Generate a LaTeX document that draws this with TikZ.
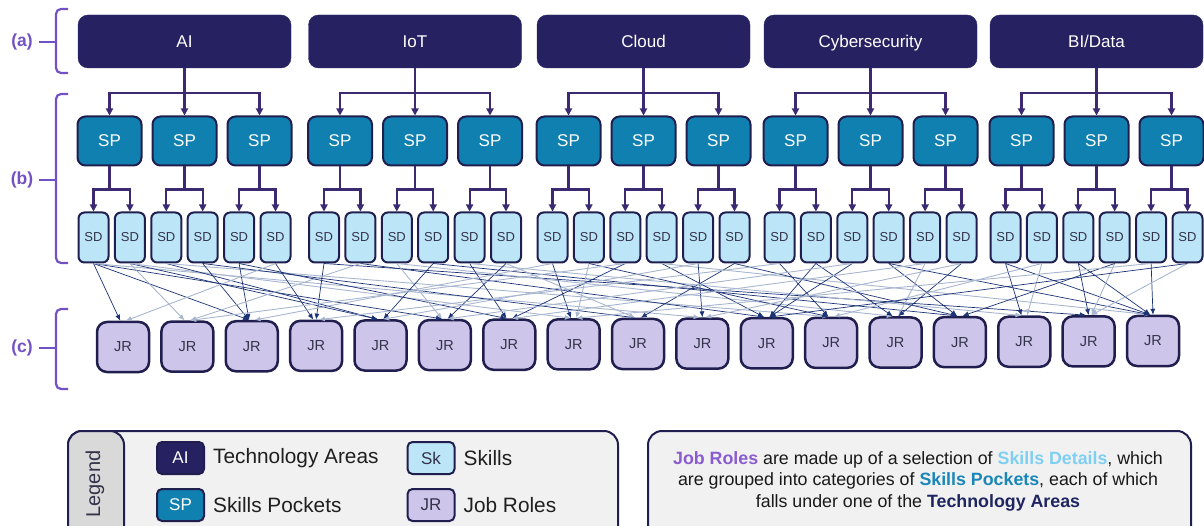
\documentclass[tikz,border=0pt]{standalone}
\usepackage{fontspec}
\setmainfont{Liberation Sans}
\usetikzlibrary{arrows.meta,calc}
\definecolor{tacol}{HTML}{262262}
\definecolor{spcol}{HTML}{1080B0}
\definecolor{sdcol}{HTML}{BDE5F8}
\definecolor{jrcol}{HTML}{CEC6EA}
\definecolor{bdcol}{HTML}{201E4E}
\definecolor{treecol}{HTML}{3B2A72}
\definecolor{brcol}{HTML}{7351C4}
\definecolor{dkcol}{HTML}{1B3275}
\definecolor{ltcol}{HTML}{A8B6CF}
\definecolor{lgfill}{HTML}{F1F1F1}
\definecolor{tabfill}{HTML}{D9D9D9}
\definecolor{txtcol}{HTML}{33334A}
\definecolor{jrtxt}{HTML}{8A5CD0}
\definecolor{sdtxt}{HTML}{7FCFF2}
\definecolor{sptxt}{HTML}{1A87B8}
\definecolor{tatxt}{HTML}{1F2560}
\begin{document}
\begin{tikzpicture}[x=1pt,y=-1pt,
  tabox/.style={draw=tacol, fill=tacol, rounded corners=10pt, minimum width=213pt, minimum height=53pt, inner sep=0pt, text=white, text height=12pt, text depth=0pt, font=\fontsize{17}{20}\selectfont},
  spbox/.style={draw=bdcol, line width=2pt, fill=spcol, rounded corners=8pt, minimum width=64pt, minimum height=49pt, inner sep=0pt, text=white, font=\fontsize{17}{20}\selectfont},
  sdbox/.style={draw=bdcol, line width=2pt, fill=sdcol, rounded corners=6pt, minimum width=30pt, minimum height=50pt, inner sep=0pt, text=txtcol, font=\fontsize{13}{15}\selectfont},
  jrbox/.style={draw=bdcol, line width=2.5pt, fill=jrcol, rounded corners=10pt, minimum width=52pt, minimum height=50pt, inner sep=0pt, text=txtcol, font=\fontsize{14.5}{16}\selectfont},
  treeln/.style={draw=treecol, line width=2.2pt},
  treearr/.style={treeln, -{Triangle[length=7pt,width=7pt]}},
  dkc/.style={draw=dkcol, line width=0.7pt, -{Latex[length=6pt,width=5pt]}},
  ltc/.style={draw=ltcol, line width=0.9pt, -{Latex[length=6pt,width=5pt]}},
  lab/.style={text=brcol, font=\bfseries\fontsize{17.5}{20}\selectfont, inner sep=0pt},
  brln/.style={draw=brcol, line width=2.2pt, rounded corners=5pt},
  legbox/.style={draw=bdcol, line width=2pt, rounded corners=5pt, minimum width=47pt, minimum height=32pt, inner sep=0pt, font=\fontsize{17}{20}\selectfont},
  legtxt/.style={anchor=west, inner sep=0pt, text=black!88, font=\fontsize{20.8}{24}\selectfont},
  panel/.style={draw=bdcol, line width=2pt, fill=lgfill, rounded corners=14pt, anchor=north west, inner sep=0pt}
]
\useasboundingbox (0,0) rectangle (1204,526);

% ---- labels and braces
\node[lab] (la) at (22,42) {(a)};
\node[lab] (lb) at (22,180) {(b)};
\node[lab] (lc) at (22,348) {(c)};
\draw[brln] (68,9) -| (56,42) |- (68,73);
\draw[brln] (68,94) -| (56,180) |- (68,263);
\draw[brln] (68,309) -| (56,348) |- (68,389);
\draw[draw=brcol, line width=2.2pt] (la.east) ++(6,0) -- (56,42);
\draw[draw=brcol, line width=2.2pt] (lb.east) ++(6,0) -- (56,180);
\draw[draw=brcol, line width=2.2pt] (lc.east) ++(6,0) -- (56,348);

% ---- technology areas, skills pockets, skills details
\foreach \g/\c/\t in {1/184.5/AI, 2/415/IoT, 3/643.5/Cloud, 4/870.5/Cybersecurity, 5/1096.5/BI\slash Data}{
  \node[tabox] (ta\g) at (\c,41.5) {\t};
  \foreach \p in {1,2,3}{
    \pgfmathsetmacro\px{\c+(\p-2)*75}
    \node[spbox] (sp\g-\p) at (\px,141) {SP};
  }
  \foreach \k in {0,...,5}{
    \pgfmathtruncatemacro\s{(\g-1)*6+\k+1}
    \pgfmathsetmacro\x{\c+(\k-2.5)*36.4}
    \node[sdbox] (sd\s) at (\x,237.5) {SD};
  }
  \draw[treeln] (ta\g.south) -- ++(0,25) coordinate (tb\g);
  \foreach \p in {1,2,3}{
    \draw[treearr] (tb\g) -| (sp\g-\p.north);
    \pgfmathtruncatemacro\sa{(\g-1)*6+(\p-1)*2+1}
    \pgfmathtruncatemacro\sb{\sa+1}
    \draw[treeln] (sp\g-\p.south) -- ++(0,23) coordinate (pb\g-\p);
    \draw[treearr] (pb\g-\p) -| (sd\sa.north);
    \draw[treearr] (pb\g-\p) -| (sd\sb.north);
  }
}

% ---- job roles
\foreach \j in {1,...,17}{
  \pgfmathsetmacro\jx{123+(\j-1)*64.375}
  \pgfmathsetmacro\jy{347-(\j-1)*6/16}
  \node[jrbox] (jr\j) at (\jx,\jy) {JR};
}

% ---- skills details to job roles
\foreach \s/\j/\st in {
  1/1/dkc, 1/3/dkc, 1/6/dkc, 1/10/ltc, 2/2/ltc, 2/5/dkc, 2/8/ltc,
  3/5/dkc, 3/12/ltc, 4/3/dkc, 4/9/dkc, 5/3/dkc, 5/7/dkc, 6/1/ltc, 6/4/dkc,
  7/4/dkc, 7/16/dkc, 8/11/dkc, 8/2/ltc, 9/6/ltc, 9/13/ltc, 10/5/dkc, 10/14/dkc,
  11/7/dkc, 11/15/ltc, 12/6/dkc, 12/9/ltc,
  13/8/dkc, 13/3/ltc, 14/8/ltc, 14/12/dkc, 15/7/dkc, 15/2/ltc, 16/11/dkc, 16/17/ltc,
  17/10/dkc, 17/5/ltc, 18/9/dkc, 18/14/dkc,
  19/12/dkc, 19/4/ltc, 20/11/dkc, 20/13/dkc, 21/11/dkc, 21/6/ltc, 22/14/dkc, 22/17/dkc,
  23/13/ltc, 23/7/ltc, 24/13/dkc, 24/10/ltc,
  25/15/dkc, 25/17/dkc, 26/15/ltc, 26/12/ltc, 27/16/dkc, 27/17/dkc, 28/16/ltc, 28/14/dkc,
  29/17/dkc, 29/8/ltc, 30/16/ltc, 30/11/dkc}{
  \pgfmathsetmacro\gc{{184.5,415,643.5,870.5,1096.5}[int((\s-1)/6)]}
  \pgfmathsetmacro\sx{\gc+(mod(\s-1,6)-2.5)*36.4}
  \pgfmathsetmacro\jx{123+(\j-1)*64.375}
  \pgfmathtruncatemacro\an{abs(\sx-\jx)<12 ? 90 : ((\sx<\jx) ? 96 : 84)}
  \draw[\st] (sd\s.south) -- (jr\j.\an);
}

% ---- legend
\node[panel, minimum width=550pt, minimum height=130pt] (leg) at (67,430) {};
\node[panel, fill=tabfill, minimum width=56pt, minimum height=130pt] (tab) at (67,430) {};
\node[rotate=90, text=txtcol, inner sep=0pt, font=\fontsize{20}{22}\selectfont] (legt) at (95,484) {Legend};
\node[legbox, fill=tacol, text=white] (lgA) at (180.5,458) {AI};
\node[legbox, fill=spcol, text=white] (lgS) at (180.5,505) {SP};
\node[legbox, fill=sdcol, text=txtcol] (lgK) at (431,458) {Sk};
\node[legbox, fill=jrcol, text=txtcol] (lgJ) at (431,505) {JR};
\node[legtxt] (tA) at ($(lgA.east)+(8,0)$) {Technology Areas};
\node[legtxt] (tS) at ($(lgS.east)+(8,0)$) {Skills Pockets};
\node[legtxt] (tK) at ($(lgK.east)+(8,0)$) {Skills};
\node[legtxt] (tJ) at ($(lgJ.east)+(8,0)$) {Job Roles};

% ---- info box
\node[panel, minimum width=543pt, minimum height=130pt] (info) at (647,430) {};
\node[align=center, inner sep=0pt, text=black!90, font=\fontsize{17.8}{21.5}\selectfont] (infot) at (918,481)
 {\textbf{\color{jrtxt}Job Roles} are made up of a selection of \textbf{\color{sdtxt}Skills Details}, which\\
  are grouped into categories of \textbf{\color{sptxt}Skills Pockets}, each of which\\
  falls under one of the \textbf{\color{tatxt}Technology Areas}};
\end{tikzpicture}
\end{document}
